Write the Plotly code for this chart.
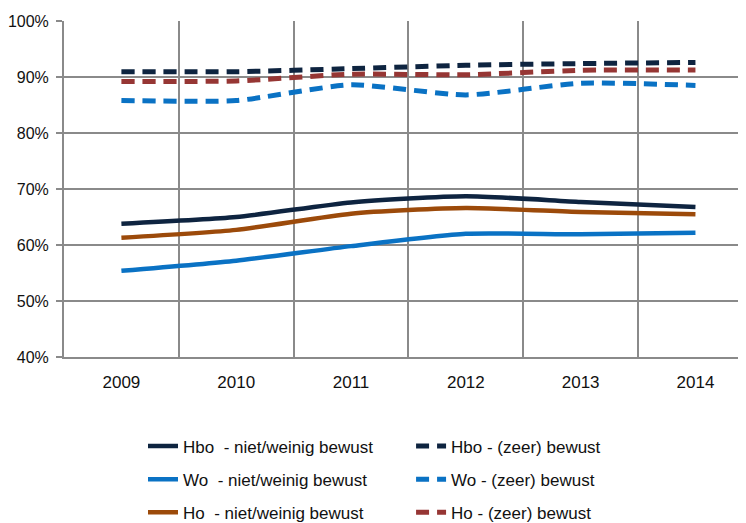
import plotly.graph_objects as go

years = ["2009", "2010", "2011", "2012", "2013", "2014"]
x_pos = [0, 1, 2, 3, 4, 5]

y_ticks = [40, 50, 60, 70, 80, 90, 100]
y_tick_labels = ["40%", "50%", "60%", "70%", "80%", "90%", "100%"]

hbo_niet = [63.8, 65.0, 67.6, 68.7, 67.7, 66.8]
wo_niet = [55.4, 57.2, 59.8, 62.0, 61.9, 62.2]
ho_niet = [61.3, 62.7, 65.6, 66.6, 65.9, 65.5]
hbo_zeer = [90.95, 90.95, 91.5, 92.1, 92.4, 92.6]
wo_zeer = [85.8, 85.8, 88.6, 86.8, 88.9, 88.5]
ho_zeer = [89.2, 89.3, 90.5, 90.4, 91.2, 91.25]

names_niet = ["Hbo\u00a0 - niet/weinig bewust", "Wo\u00a0 - niet/weinig bewust", "Ho\u00a0 - niet/weinig bewust"]
names_zeer = ["Hbo - (zeer) bewust", "Wo - (zeer) bewust", "Ho - (zeer) bewust"]

c_hbo = "#0e2440"
c_wo = "#0a72c4"
c_ho = "#9c4a0a"
c_ho_zeer = "#963634"

FONT = "Liberation Sans, Arial, sans-serif"
TXT = "#111111"

fig = go.Figure()

for vals, name, col, grp in [
    (hbo_niet, names_niet[0], c_hbo, "a"),
    (wo_niet, names_niet[1], c_wo, "b"),
    (ho_niet, names_niet[2], c_ho, "c"),
]:
    fig.add_trace(go.Scatter(
        x=x_pos, y=vals, name=name, mode="lines",
        line=dict(color=col, width=4.5, shape="spline", smoothing=0.6),
        legend="legend", legendgroup=grp,
    ))

for vals, name, col, grp in [
    (hbo_zeer, names_zeer[0], c_hbo, "d"),
    (wo_zeer, names_zeer[1], c_wo, "e"),
    (ho_zeer, names_zeer[2], c_ho_zeer, "f"),
]:
    fig.add_trace(go.Scatter(
        x=x_pos, y=vals, name=name, mode="lines",
        line=dict(color=col, width=5, shape="spline", smoothing=0.6, dash="13px,8px"),
        legend="legend2", legendgroup=grp,
    ))

grid_col = "#8a8a8a"

fig.update_layout(
    template="none",
    width=746, height=523,
    margin=dict(l=56, r=0, t=13, b=174, autoexpand=False),
    paper_bgcolor="white", plot_bgcolor="white",
    font=dict(family=FONT, size=17, color=TXT),
    showlegend=True,
    legend=dict(
        x=0.1145, y=-0.213, xanchor="left", yanchor="top",
        orientation="v", tracegroupgap=8,
        font=dict(family=FONT, size=17, color=TXT),
        bgcolor="rgba(0,0,0,0)", borderwidth=0,
    ),
    legend2=dict(
        x=0.503, y=-0.213, xanchor="left", yanchor="top",
        orientation="v", tracegroupgap=8,
        font=dict(family=FONT, size=17, color=TXT),
        bgcolor="rgba(0,0,0,0)", borderwidth=0,
    ),
    xaxis=dict(
        range=[-0.5, 5.51], automargin=False,
        tickmode="array", tickvals=x_pos, ticktext=years,
        showgrid=False, zeroline=False,
        showline=True, linecolor=grid_col, linewidth=2,
        ticks="", ticklabelstandoff=9,
        tickfont=dict(family=FONT, size=17, color=TXT),
        minor=dict(tickmode="array", tickvals=[-0.5, 0.5, 1.5, 2.5, 3.5, 4.5],
                   showgrid=True, gridcolor=grid_col, gridwidth=2, ticks=""),
        fixedrange=True,
    ),
    yaxis=dict(
        range=[40, 100], automargin=False,
        tickmode="array", tickvals=y_ticks, ticktext=y_tick_labels,
        showgrid=True, gridcolor=grid_col, gridwidth=2,
        zeroline=False,
        showline=True, linecolor=grid_col, linewidth=2,
        ticks="outside", ticklen=6, tickcolor=grid_col, tickwidth=2,
        ticklabelstandoff=4,
        tickfont=dict(family=FONT, size=16, color=TXT),
        fixedrange=True,
    ),
)

fig.write_html("out.html")
